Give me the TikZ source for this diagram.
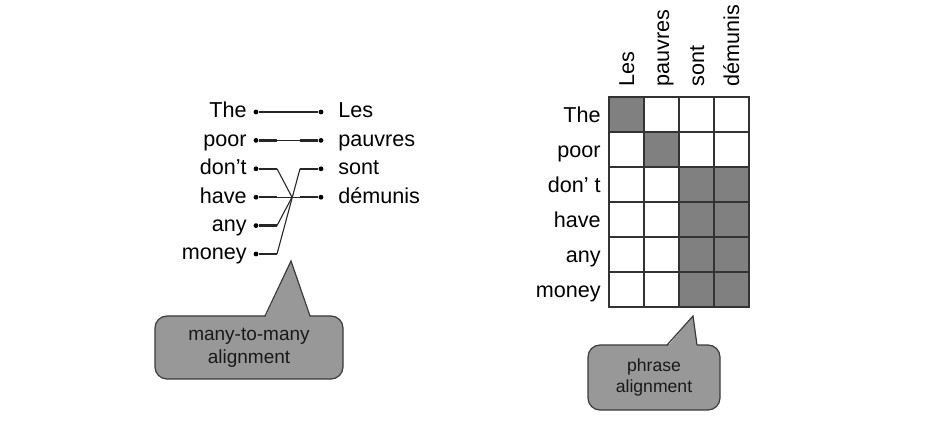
\documentclass[tikz,border=0pt]{standalone}
\usepackage{fontspec}
\setmainfont{Liberation Sans}
\usetikzlibrary{calc}
\definecolor{cellgray}{RGB}{128,128,128}
\definecolor{bubblegray}{RGB}{152,152,152}
\definecolor{edgegray}{RGB}{58,58,58}
\tikzset{
  word/.style={inner sep=0pt, font=\fontsize{10.8}{13}\selectfont},
  dot/.style={circle, fill=black, inner sep=0pt, minimum size=2.4pt},
  stub/.style={line width=1.25pt, draw=black!85},
  link/.style={line width=.55pt, draw=black!85},
  cell/.style={draw=black!80, line width=.75pt, fill=#1, minimum size=17.5pt, inner sep=0pt},
  bubble/.style={draw=edgegray, line width=.6pt, fill=bubblegray, rounded corners=6pt, align=center, inner sep=0pt, outer sep=0pt, text=black!90},
  bubbleedge/.style={draw=edgegray, line width=.6pt, line join=miter}
}

\begin{document}
\begin{tikzpicture}[x=0.5pt,y=-0.5pt]
  \useasboundingbox (0,0) rectangle (930,432);

  % Word alignment: English side.
  \foreach \w/\n [count=\i from 0] in {The/the,poor/poor,don’t/dont,have/have,any/any,money/money}{
    \node[word, anchor=base east] (\n) at (247,{112+28.4*\i+6}) {\w};
    \node[dot] (d\n) at (256,{112+28.4*\i}) {};
    \coordinate (s\n) at (277,{112+28.4*\i});
    \draw[stub] (d\n) -- (s\n);
  }
  % French side.
  \foreach \w/\n [count=\i from 0] in {Les/les,pauvres/pauvres,sont/sont,démunis/demunis}{
    \node[word, anchor=base west] (\n) at (338,{112+28.4*\i+6}) {\w};
    \node[dot] (d\n) at (321,{112+28.4*\i}) {};
    \coordinate (s\n) at (300,{112+28.4*\i});
    \draw[stub] (d\n) -- (s\n);
  }
  \coordinate (cross) at (292,197.2);
  \draw[link] (sthe) -- (sles);
  \draw[link] (spoor) -- (spauvres);
  \draw[link] (shave) -- (sdemunis);
  \draw[link] (sdont) -- (cross);
  \draw[link] (sany) -- (cross);
  \draw[link] (smoney) -- (ssont);

  % Callout under the word links.
  \node[bubble, minimum width=94pt, minimum height=31.5pt, font=\fontsize{9.5}{11.5}\selectfont] (manybox) at (249,347.5) {many-to-many\\alignment};
  \coordinate (manytip) at (291,261);
  \fill[bubblegray] ($(manybox.north)+(16,2)$) -- (manytip) -- ($(manybox.north)+(61,2)$) -- cycle;
  \draw[bubbleedge] ($(manybox.north)+(16,0)$) -- (manytip) -- ($(manybox.north)+(61,0)$);

  % Alignment matrix.
  \foreach \r in {0,...,5}
    \foreach \c in {0,...,3}
      \node[cell=white] (c\r\c) at ({626.5+35*\c},{114.5+35*\r}) {};
  \foreach \r/\c in {0/0,1/1,2/2,2/3,3/2,3/3,4/2,4/3,5/2,5/3}
    \node[cell=cellgray] (a\r\c) at ({626.5+35*\c},{114.5+35*\r}) {};
  \foreach \w [count=\i from 0] in {The,poor,don’ t,have,any,money}
    \node[word, anchor=base east] (row\i) at (601,{114.5+35*\i+8}) {\w};
  \foreach \w [count=\i from 0] in {Les,pauvres,sont,démunis}
    \node[word, rotate=90, anchor=base west] (col\i) at ({626.5+35*\i+7.5},87) {\w};

  % Callout under the matrix.
  \node[bubble, minimum width=66pt, minimum height=32.5pt, font=\fontsize{8.8}{10.6}\selectfont] (phrasebox) at (654,377.5) {phrase\\alignment};
  \coordinate (phrasetip) at (693,316);
  \fill[bubblegray] ($(phrasebox.north)+(13,2)$) -- (phrasetip) -- ($(phrasebox.north)+(43,2)$) -- cycle;
  \draw[bubbleedge] ($(phrasebox.north)+(13,0)$) -- (phrasetip) -- ($(phrasebox.north)+(43,0)$);
\end{tikzpicture}
\end{document}
